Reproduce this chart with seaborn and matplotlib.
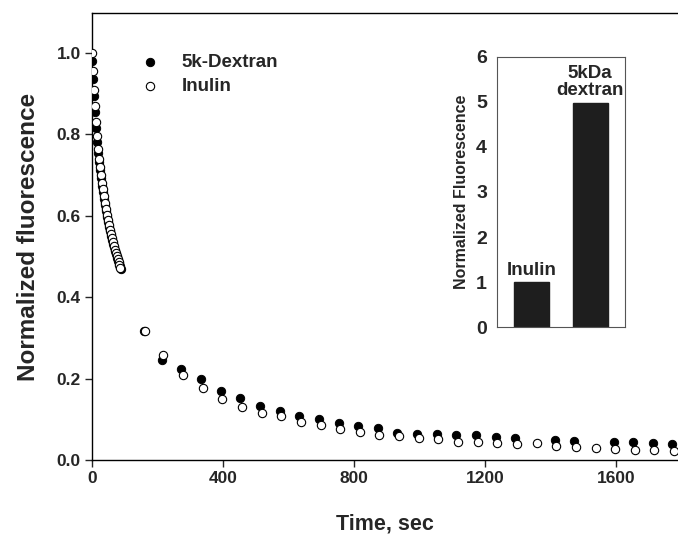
import matplotlib
matplotlib.use('Agg')
import matplotlib.pyplot as plt
import seaborn as sns
import pandas as pd

# early, densely sampled part (sec)
t_dex_early = [1, 4, 7, 10, 13, 16, 19, 22, 25, 28, 31, 34, 37, 40, 43, 46, 49, 52, 55, 58,
               61, 64, 67, 70, 73, 76, 79, 82, 85, 88]
f_dex_early = [0.98, 0.935, 0.895, 0.855, 0.815, 0.782, 0.755, 0.733, 0.712, 0.692,
               0.673, 0.658, 0.642, 0.626, 0.611, 0.597, 0.585, 0.573, 0.562, 0.551,
               0.541, 0.531, 0.522, 0.513, 0.505, 0.497, 0.490, 0.483, 0.476, 0.470]
t_inu_early = [0, 3, 6, 9, 12, 15, 18, 21, 24, 27, 30, 33, 36, 39, 42, 45, 48, 51, 54, 57,
               60, 63, 66, 69, 72, 75, 78, 81, 84, 87]
f_inu_early = [1.00, 0.955, 0.91, 0.87, 0.83, 0.795, 0.765, 0.74, 0.72, 0.70,
               0.68, 0.665, 0.648, 0.632, 0.617, 0.602, 0.59, 0.578, 0.566, 0.555,
               0.545, 0.535, 0.525, 0.516, 0.508, 0.50, 0.493, 0.486, 0.479, 0.472]

# later part, one reading per minute
t_dex_late = [160, 213, 273, 333, 393, 453, 513, 573, 633, 693, 753, 813, 873, 933, 993,
              1053, 1113, 1173, 1233, 1293, 1413, 1473, 1593, 1653, 1713, 1773]
f_dex_late = [0.316, 0.246, 0.224, 0.198, 0.170, 0.152, 0.133, 0.120, 0.107, 0.100,
              0.090, 0.083, 0.079, 0.067, 0.064, 0.063, 0.061, 0.061, 0.057, 0.055,
              0.049, 0.047, 0.044, 0.043, 0.041, 0.040]
t_inu_late = [163, 218, 278, 338, 398, 458, 518, 578, 638, 698, 758, 818, 878, 938, 998,
              1058, 1118, 1178, 1238, 1298, 1358, 1418, 1478, 1538, 1598, 1658, 1718, 1778]
f_inu_late = [0.316, 0.258, 0.209, 0.177, 0.149, 0.130, 0.115, 0.107, 0.093, 0.085,
              0.077, 0.069, 0.061, 0.059, 0.053, 0.051, 0.045, 0.043, 0.041, 0.039,
              0.041, 0.035, 0.033, 0.030, 0.027, 0.025, 0.025, 0.022]

# inset bars
bar_names = ['Inulin', '5kDa\ndextran']
bar_values = [1.0, 4.98]

x_ticks = [0, 400, 800, 1200, 1600]
y_ticks = [0.0, 0.2, 0.4, 0.6, 0.8, 1.0]
inset_ticks = [0, 1, 2, 3, 4, 5, 6]

sns.set_style('ticks')
plt.rcParams['font.family'] = ['Liberation Sans', 'DejaVu Sans']
plt.rcParams['font.weight'] = 'bold'

dex = pd.DataFrame({'t': t_dex_early + t_dex_late, 'f': f_dex_early + f_dex_late})
inu = pd.DataFrame({'t': t_inu_early + t_inu_late, 'f': f_inu_early + f_inu_late})

fig = plt.figure(figsize=(6.78, 5.36), dpi=100)
ax = fig.add_axes([92 / 678, 76 / 536, 586 / 678, 447 / 536])

sns.scatterplot(data=dex, x='t', y='f', ax=ax, s=36, color='black', edgecolor='black',
                linewidth=0.7, label='5k-Dextran', zorder=3)
sns.scatterplot(data=inu, x='t', y='f', ax=ax, s=36, color='white', edgecolor='black',
                linewidth=0.8, label='Inulin', zorder=4)

ax.set_xlim(0, 1790)
ax.set_ylim(0, 1.098)
ax.set_xticks(x_ticks)
ax.set_yticks(y_ticks)
ax.set_yticklabels([f'{v:.1f}' for v in y_ticks])
ax.tick_params(direction='out', length=5, width=1, labelsize=12.5, pad=3)
for lab in ax.get_xticklabels() + ax.get_yticklabels():
    lab.set_fontweight('bold')
ax.spines['right'].set_visible(False)
for sp in ['left', 'bottom', 'top']:
    ax.spines[sp].set_linewidth(1)
    ax.spines[sp].set_color('black')
ax.set_xlabel('Time, sec', fontsize=15.5, fontweight='bold', labelpad=20)
ax.set_ylabel('Normalized fluorescence', fontsize=17.5, fontweight='bold', labelpad=12)

leg = ax.legend(loc='upper left', bbox_to_anchor=(0.07, 0.9255), frameon=False,
                fontsize=13.5, handlelength=1.0, handletextpad=1.2,
                labelspacing=0.35, borderaxespad=0)
for txt in leg.get_texts():
    txt.set_fontweight('bold')

# inset bar chart
ins = fig.add_axes([496.7 / 678, (536 - 327.3) / 536, 128.3 / 678, 270.6 / 536])
sns.barplot(x=[0, 1], y=bar_values, ax=ins, color='#1e1e1e', width=0.6,
            saturation=1, native_scale=True, edgecolor='#1e1e1e')
ins.set_xlim(-0.6, 1.595)
ins.set_ylim(0, 6)
ins.set_xticks([])
ins.set_yticks(inset_ticks)
ins.tick_params(axis='y', direction='out', length=0, labelsize=14, pad=7)
for lab in ins.get_yticklabels():
    lab.set_fontweight('bold')
for sp in ins.spines.values():
    sp.set_visible(True)
    sp.set_linewidth(0.8)
    sp.set_color('#555555')
ins.set_ylabel('Normalized Fluorescence', fontsize=11.5, fontweight='bold', labelpad=5)
ins.set_xlabel('')
for i, (name, v) in enumerate(zip(bar_names, bar_values)):
    ins.text(i, v + 0.08, name, ha='center', va='bottom', fontsize=13.5,
             fontweight='bold', linespacing=1.0)

fig.savefig('out.png', dpi=100)
